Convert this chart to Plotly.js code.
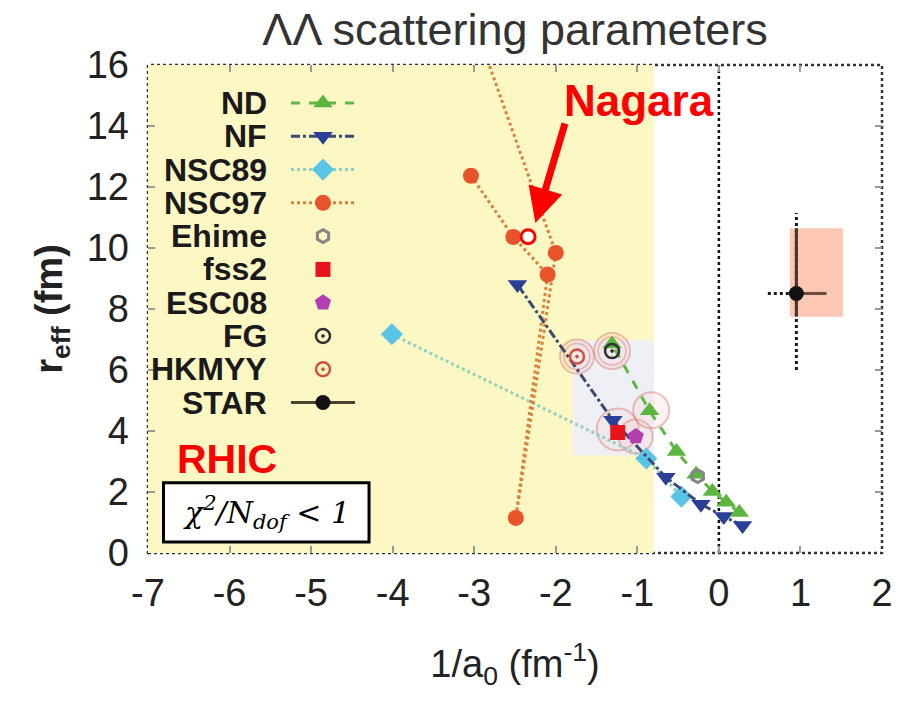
<!DOCTYPE html>
<html>
<head>
<meta charset="utf-8">
<script src="https://cdn.plot.ly/plotly-3.0.1.min.js"></script>
<style>html,body{margin:0;padding:0;background:#fff;}#chart{width:899px;height:703px;}</style>
</head>
<body>
<div id="chart"></div>
<script>
// ---- data ----
const ndX = [0.25, 0.09, -0.08, -0.28, -0.52, -0.85, -1.31];
const ndY = [1.33, 1.66, 2.02, 2.58, 3.33, 4.66, 6.85];
const nfX = [0.29, 0.06, -0.22, -0.65, -1.30, -2.47];
const nfY = [0.90, 1.20, 1.60, 2.48, 4.35, 8.80];
const nsc89X = [-4.01, -0.89, -0.46];
const nsc89Y = [7.17, 3.10, 1.85];
const nsc97X = [-3.04, -2.52, -2.10, -2.49, -2.00, -2.86];
const nsc97Y = [12.37, 10.36, 9.13, 1.15, 9.84, 16.33];
const ehimeX = [-0.26], ehimeY = [2.52];
const fss2X = [-1.24], fss2Y = [3.95];
const esc08X = [-1.02], esc08Y = [3.82];
const fgX = [-1.31], fgY = [6.62];
const hkmyyX = [-1.74], hkmyyY = [6.44];
const starX = [0.95], starY = [8.51];
const starStatYPlus = [2.14], starStatYMinus = [0.76];
const starStatXPlus = [0.37], starStatXMinus = [0];
const starSysYPlus = [2.64], starSysYMinus = [2.51], starSysXMinus = [0.35];
const starBoxX = [0.87, 1.52], starBoxY = [7.75, 10.65];
const nagaraX = [-2.34], nagaraY = [10.37];
const haloX = [-1.74, -1.31, -1.24, -1.02, -0.83];
const haloY = [6.44, 6.62, 4.05, 3.82, 4.68];
const xTicks = [-7, -6, -5, -4, -3, -2, -1, 0, 1, 2];
const xTickText = ['-7', '-6', '-5', '-4', '-3', '-2', '-1', '0', '1', '2'];
const yTicks = [0, 2, 4, 6, 8, 10, 12, 14, 16];
const legendNames = ['ND', 'NF', 'NSC89', 'NSC97', 'Ehime', 'fss2', 'ESC08', 'FG', 'HKMYY', 'STAR'];

// ---- styles ----
const FONT = 'Liberation Sans, Arial, Helvetica, sans-serif';
const X_RANGE = [-7, 2], Y_RANGE = [0, 16];
const st = {
  ND:    {line: {color: '#62b846', dash: 'dash', width: 3}, marker: {symbol: 'triangle-up', size: 17, color: '#5cb53e'}},
  NF:    {line: {color: '#3c4a72', dash: 'dashdot', width: 3}, marker: {symbol: 'triangle-down', size: 17, color: '#2c3f98'}},
  NSC89: {line: {color: '#93cfc2', dash: 'dot', width: 3}, marker: {symbol: 'diamond', size: 17, color: '#5ac4e6'}},
  NSC97: {line: {color: '#d8823e', dash: 'dot', width: 3}, marker: {symbol: 'circle', size: 16, color: '#e8532a'}},
  Ehime: {marker: {symbol: 'hexagon-open', size: 13, color: '#858585', line: {width: 3, color: '#858585'}}},
  fss2:  {marker: {symbol: 'square', size: 15, color: '#e8141c'}},
  ESC08: {marker: {symbol: 'pentagon', size: 17, color: '#b23eb0'}},
  FG:    {marker: {symbol: 'circle-open-dot', size: 14, color: '#303030', line: {width: 2.5, color: '#303030'}}},
  HKMYY: {marker: {symbol: 'circle-open-dot', size: 14, color: '#d4503e', line: {width: 2.5, color: '#d4503e'}}},
  STAR:  {line: {color: '#4a4230', dash: 'solid', width: 3}, marker: {symbol: 'circle', size: 15, color: '#111111'}}
};

const traces = [];
// halos
traces.push({x: haloX, y: haloY, type: 'scatter', mode: 'markers', hoverinfo: 'skip',
  marker: {symbol: 'circle', size: [34, 36, 42, 34, 36], color: 'rgba(255,200,200,0.28)',
           line: {color: 'rgba(214,120,110,0.65)', width: 2}}});
traces.push({x: haloX.slice(0, 2), y: haloY.slice(0, 2), type: 'scatter', mode: 'markers', hoverinfo: 'skip',
  marker: {symbol: 'circle-open', size: [26, 28], color: 'rgba(220,110,120,0.55)', line: {width: 2}}});

function lineTrace(name, x, y) {
  return {name: name, x: x, y: y, type: 'scatter', mode: 'lines+markers',
          line: st[name].line, marker: st[name].marker};
}
traces.push(lineTrace('NSC89', nsc89X, nsc89Y));
traces.push(lineTrace('NSC97', nsc97X, nsc97Y));
traces.push(lineTrace('NF', nfX, nfY));
traces.push(lineTrace('ND', ndX, ndY));
traces.push({name: 'Ehime', x: ehimeX, y: ehimeY, type: 'scatter', mode: 'markers', marker: st.Ehime.marker});
traces.push({name: 'ESC08', x: esc08X, y: esc08Y, type: 'scatter', mode: 'markers', marker: st.ESC08.marker});
traces.push({name: 'fss2', x: fss2X, y: fss2Y, type: 'scatter', mode: 'markers', marker: st.fss2.marker});
traces.push({name: 'FG', x: fgX, y: fgY, type: 'scatter', mode: 'markers', marker: st.FG.marker});
traces.push({name: 'HKMYY', x: hkmyyX, y: hkmyyY, type: 'scatter', mode: 'markers', marker: st.HKMYY.marker});
// STAR systematic (dotted)
traces.push({x: [starX[0], starX[0]], y: [starY[0] - starSysYMinus[0], starY[0] + starSysYPlus[0]],
  type: 'scatter', mode: 'lines', hoverinfo: 'skip', line: {color: '#1a1a1a', dash: 'dot', width: 3}});
traces.push({x: [starX[0] - starSysXMinus[0], starX[0]], y: [starY[0], starY[0]],
  type: 'scatter', mode: 'lines', hoverinfo: 'skip', line: {color: '#1a1a1a', dash: 'dot', width: 3}});
traces.push({name: 'STAR', x: starX, y: starY, type: 'scatter', mode: 'markers', marker: st.STAR.marker,
  error_y: {type: 'data', symmetric: false, array: starStatYPlus, arrayminus: starStatYMinus, color: '#4a3428', thickness: 3, width: 0},
  error_x: {type: 'data', symmetric: false, array: starStatXPlus, arrayminus: starStatXMinus, color: '#6a4a3a', thickness: 3, width: 0}});
// Nagara
traces.push({name: 'Nagara', x: nagaraX, y: nagaraY, type: 'scatter', mode: 'markers',
  marker: {symbol: 'circle', size: 14, color: '#ffffff', line: {color: '#ff0000', width: 3}}});

// ---- hand-placed legend (labels left, keys right); positions given as fractions of the plot area ----
const LEG_KEY_FX = 0.2384, LEG_HALF_FX = 0.0436, LEG_ROW0_FY = 0.0779, LEG_GAP_FY = 0.0682, LEG_TEXT_FX = 0.1649;
function fx(f) { return X_RANGE[0] + f * (X_RANGE[1] - X_RANGE[0]); }
function fy(f) { return Y_RANGE[1] - f * (Y_RANGE[1] - Y_RANGE[0]); }
const annotations = [];
legendNames.forEach(function (nm, i) {
  const rowF = LEG_ROW0_FY + i * LEG_GAP_FY;
  const s = st[nm];
  if (s.line) {
    traces.push({x: [fx(LEG_KEY_FX - LEG_HALF_FX), fx(LEG_KEY_FX + LEG_HALF_FX)], y: [fy(rowF), fy(rowF)],
      type: 'scatter', mode: 'lines', hoverinfo: 'skip', line: s.line});
  }
  traces.push({x: [fx(LEG_KEY_FX)], y: [fy(rowF)], type: 'scatter', mode: 'markers',
    hoverinfo: 'skip', marker: s.marker});
  annotations.push({xref: 'paper', yref: 'paper', x: LEG_TEXT_FX, y: 1 - rowF, text: '<b>' + nm + '</b>', showarrow: false,
    xanchor: 'right', yanchor: 'middle', font: {family: FONT, size: 32, color: '#1a1a1a'}});
});

annotations.push({xref: 'x', yref: 'y', x: -0.98, y: 14.85, text: '<b>Nagara</b>', showarrow: false,
  font: {family: FONT, size: 44, color: '#ff0000'}});
annotations.push({xref: 'x', yref: 'y', x: -2.25, y: 10.82, ax: 30, ay: -101, text: '', showarrow: true,
  arrowhead: 2, arrowsize: 1, arrowwidth: 7, arrowcolor: '#ff0000'});
annotations.push({xref: 'x', yref: 'y', x: -6.03, y: 3.08, text: '<b>RHIC</b>', showarrow: false,
  font: {family: FONT, size: 41, color: '#ff0000'}});
annotations.push({xref: 'x', yref: 'y', x: -5.55, y: 1.33, text: '<i>χ<sup>2</sup>/N<sub>dof</sub> < 1</i>', showarrow: false,
  font: {family: 'DejaVu Serif, serif', size: 30, color: '#000000'}});

const shapes = [
  {type: 'rect', xref: 'x', yref: 'y', x0: -7, x1: -0.8, y0: 0, y1: 16, layer: 'below', line: {width: 0}, fillcolor: '#fdf7c4'},
  {type: 'rect', xref: 'x', yref: 'y', x0: -1.79, x1: -0.8, y0: 3.2, y1: 6.98, layer: 'below', line: {width: 0}, fillcolor: '#eef0f6'},
  {type: 'rect', xref: 'x', yref: 'y', x0: starBoxX[0], x1: starBoxX[1], y0: starBoxY[0], y1: starBoxY[1], layer: 'below', line: {width: 0}, fillcolor: '#fcc8b4'},
  {type: 'line', xref: 'x', yref: 'y', x0: 0, x1: 0, y0: 0, y1: 16, layer: 'below', line: {color: '#111', width: 2.5, dash: 'dot'}},
  {type: 'rect', xref: 'paper', yref: 'paper', x0: 0, x1: 1, y0: 0, y1: 1, layer: 'below', line: {color: '#333', width: 2.5, dash: 'dot'}},
  {type: 'rect', xref: 'x', yref: 'y', x0: -6.81, x1: -4.29, y0: 0.36, y1: 2.30, line: {color: '#000', width: 3}, fillcolor: '#ffffff'}
];

const layout = {
  width: 899, height: 703,
  margin: {l: 148, r: 17, t: 65, b: 150},
  paper_bgcolor: '#ffffff', plot_bgcolor: '#ffffff',
  showlegend: false,
  font: {family: FONT, color: '#222'},
  title: {text: 'ΛΛ scattering parameters', font: {family: FONT, size: 45, color: '#333'},
          xref: 'paper', x: 0.5, xanchor: 'center', yref: 'container', y: 0.958, yanchor: 'middle'},
  xaxis: {range: X_RANGE, tickmode: 'array', tickvals: xTicks, ticktext: xTickText, ticks: 'inside', ticklen: 7, tickwidth: 2,
          tickcolor: '#999', mirror: 'ticks', showgrid: false, zeroline: false, showline: false,
          tickfont: {family: FONT, size: 38, color: '#222'}, ticklabelstandoff: 14,
          title: {text: '1/a<sub>0</sub> (fm<sup>-1</sup>)', font: {family: FONT, size: 38, color: '#222'}}},
  yaxis: {range: Y_RANGE, tickmode: 'array', tickvals: yTicks, ticks: 'inside', ticklen: 7, tickwidth: 2,
          tickcolor: '#999', mirror: 'ticks', showgrid: false, zeroline: false, showline: false,
          tickfont: {family: FONT, size: 38, color: '#222'}, ticklabelstandoff: 18,
          title: {text: '<b>r<sub>eff</sub> (fm)</b>', font: {family: FONT, size: 38, color: '#222'}}},
  shapes: shapes,
  annotations: annotations
};

Plotly.newPlot('chart', traces, layout, {displayModeBar: false, staticPlot: true});
</script>
</body>
</html>
